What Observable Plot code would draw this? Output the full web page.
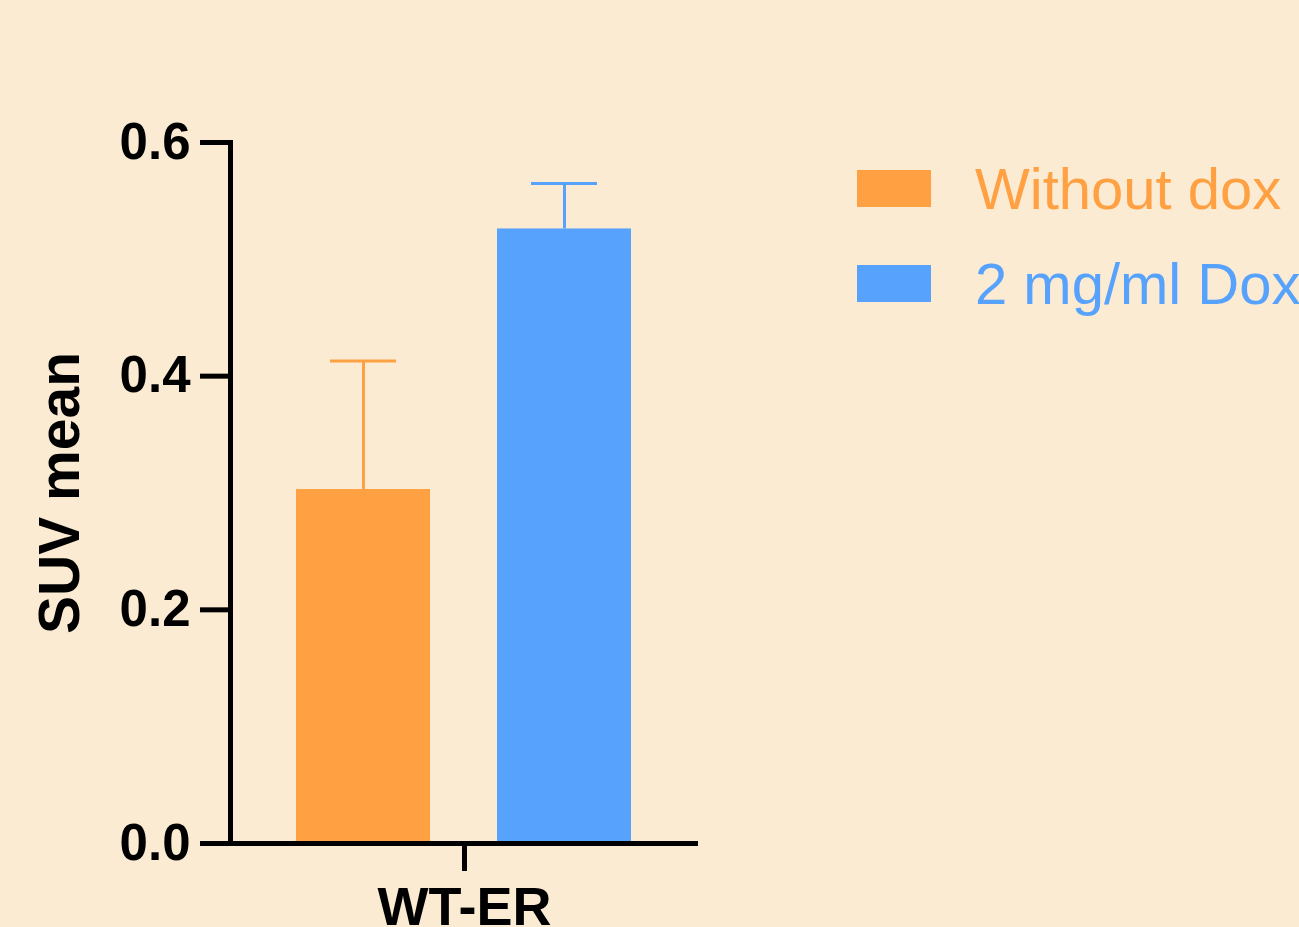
<!DOCTYPE html>
<html><head><meta charset="utf-8">
<script src="https://cdn.jsdelivr.net/npm/d3@7"></script>
<script src="https://cdn.jsdelivr.net/npm/@observablehq/plot@0.6"></script>
<style>
html,body{margin:0;padding:0;background:#FAEBD2;overflow:hidden}
#wrap{position:relative;width:1299px;height:927px;overflow:hidden}
.row{position:absolute;left:857px;height:60px;display:flex;align-items:center;white-space:nowrap;font-family:'Liberation Sans',Arial,sans-serif;font-size:58px}
.sw{width:74px;height:37px;margin-right:44px;flex:none}
</style>
</head><body>
<div id="wrap"></div>
<script>
const groups = ["WT-ER"];
const series = ["Without dox", "2 mg/ml Dox"];
const means = [0.303, 0.526];
const errors = [0.110, 0.039];
const colors = ["#FFA143", "#56A2FD"];
const yTicks = [0, 0.2, 0.4, 0.6];

const data = series.map((s, i) => ({group: groups[0], series: s, mean: means[i], upper: means[i] + errors[i]}));

const chart = Plot.plot({
  width: 1299, height: 927,
  marginLeft: 230, marginRight: 601, marginTop: 142, marginBottom: 84,
  style: {background: "transparent", fontFamily: "'Liberation Sans', Arial, sans-serif", color: "black", overflow: "visible"},
  fx: {domain: groups, padding: 0, label: null, axis: null},
  x: {domain: series, paddingInner: 0.333, paddingOuter: 0.33, axis: null},
  y: {domain: [0, 0.6], axis: null},
  color: {domain: series, range: colors},
  marks: [
    Plot.barY(data, {fx: "group", x: "series", y: "mean", fill: "series"}),
    Plot.ruleX(data, {fx: "group", x: "series", y1: "mean", y2: "upper", stroke: "series", strokeWidth: 3}),
    Plot.tickY(data, {fx: "group", x: "series", y: "upper", stroke: "series", strokeWidth: 3, inset: 34}),
    Plot.axisY({ticks: yTicks, tickFormat: d => d.toFixed(1), tickSize: 30, tickPadding: 10, strokeWidth: 5, fontSize: 51, fontWeight: "bold", label: null}),
    Plot.axisFx({anchor: "bottom", tickSize: 28, tickPadding: 15, strokeWidth: 5, fontSize: 54, fontWeight: "bold", label: null}),
    Plot.frame({anchor: "left", strokeWidth: 5}),
    Plot.ruleY([0], {strokeWidth: 5}),
    Plot.text(["SUV mean"], {frameAnchor: "left", textAnchor: "middle", rotate: -90, dx: -170, fontSize: 57, fontWeight: "bold"})
  ]
});
const wrap = document.getElementById("wrap");
wrap.appendChild(chart);
chart.style.position = "absolute"; chart.style.left = "0"; chart.style.top = "0";

const tops = [158, 253];
series.forEach((s, i) => {
  const row = document.createElement("div");
  row.className = "row";
  row.style.top = tops[i] + "px";
  row.style.color = colors[i];
  const sw = document.createElement("div");
  sw.className = "sw";
  sw.style.background = colors[i];
  const t = document.createElement("span");
  t.textContent = s;
  row.appendChild(sw); row.appendChild(t);
  wrap.appendChild(row);
});
</script>
</body></html>
